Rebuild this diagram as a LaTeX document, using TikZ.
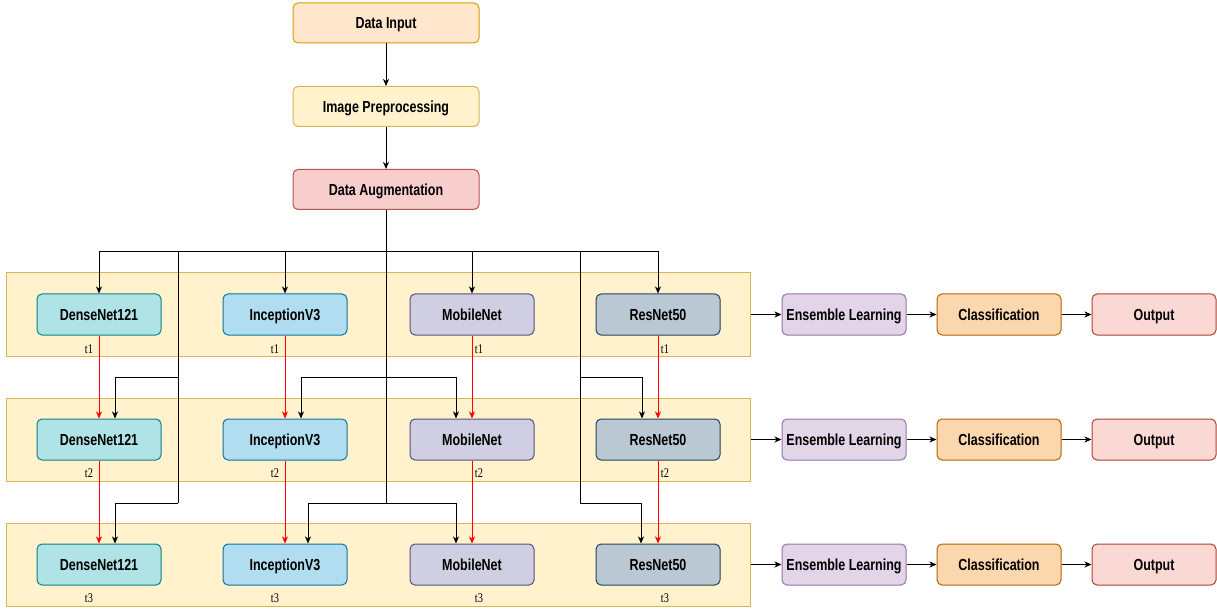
\documentclass[tikz,border=0pt]{standalone}
\usepackage{fontspec}
\setmainfont{Liberation Sans}
\newfontfamily\boxfont[FakeStretch=0.78]{Liberation Sans}
\newfontfamily\labelfont[FakeStretch=0.78]{Liberation Serif}
\usetikzlibrary{arrows.meta}

% fill / stroke pairs
\definecolor{inF}{HTML}{FFE6CC}\definecolor{inS}{HTML}{D79B00}
\definecolor{ylF}{HTML}{FFF2CC}\definecolor{ylS}{HTML}{D6B656}
\definecolor{rdF}{HTML}{F8CECC}\definecolor{rdS}{HTML}{B85450}
\definecolor{dnF}{HTML}{B0E3E6}\definecolor{dnS}{HTML}{0E8088}
\definecolor{icF}{HTML}{B1DDF0}\definecolor{icS}{HTML}{10739E}
\definecolor{mbF}{HTML}{D0CEE2}\definecolor{mbS}{HTML}{56517E}
\definecolor{rsF}{HTML}{BAC8D3}\definecolor{rsS}{HTML}{23445D}
\definecolor{enF}{HTML}{E1D5E7}\definecolor{enS}{HTML}{9673A6}
\definecolor{clF}{HTML}{FAD7AC}\definecolor{clS}{HTML}{B46504}
\definecolor{ouF}{HTML}{FAD9D5}\definecolor{ouS}{HTML}{AE4132}
\definecolor{redline}{HTML}{FF0000}

\tikzset{
  box/.style={rectangle, rounded corners=5pt, line width=1pt,
    minimum width=124pt, minimum height=41pt, inner sep=0pt,
    text height=11.5pt, text depth=0pt,
    font=\boxfont\fontsize{16}{18}\selectfont\bfseries},
  wide/.style={box, minimum width=186pt, minimum height=40pt},
  band/.style={rectangle, fill=ylF, draw=ylS, line width=1pt,
    minimum width=743.5pt, minimum height=83pt, inner sep=0pt},
  dense/.style={box, fill=dnF, draw=dnS},
  incep/.style={box, fill=icF, draw=icS},
  mobile/.style={box, fill=mbF, draw=mbS},
  resnet/.style={box, fill=rsF, draw=rsS},
  ensem/.style={box, fill=enF, draw=enS},
  classi/.style={box, fill=clF, draw=clS},
  outbox/.style={box, fill=ouF, draw=ouS},
  tlabel/.style={inner sep=0pt, text height=9pt, text depth=0pt,
    font=\labelfont\fontsize{13.3}{15}\selectfont},
  arr/.style={line width=1pt, black, -{Stealth[length=7pt,width=6pt,inset=2pt]}},
  redarr/.style={line width=1pt, redline, -{Stealth[length=7pt,width=6pt,inset=2pt]}},
  link/.style={line width=1pt, black},
}

\begin{document}
\begin{tikzpicture}[x=1pt, y=-1pt]
\useasboundingbox (0,0) rectangle (1217,609);

% pipeline head
\node[wide, fill=inF, draw=inS] (input) at (386,23) {Data Input};
\node[wide, fill=ylF, draw=ylS] (prep) at (386,106.5) {Image Preprocessing};
\node[wide, fill=rdF, draw=rdS] (aug) at (386,189.5) {Data Augmentation};
\draw[arr] (input) -- (prep);
\draw[arr] (prep) -- (aug);

% one band per time step
\node[band] (band1) at (378.25,314.5) {};
\node[band] (band2) at (378.25,439.5) {};
\node[band] (band3) at (378.25,564.5) {};

% models, row by row
\foreach \r/\y in {1/314.5, 2/439.5, 3/564.5}{
  \node[dense]  (d\r) at (99,\y)  {DenseNet121};
  \node[incep]  (i\r) at (285,\y) {InceptionV3};
  \node[mobile] (m\r) at (472,\y) {MobileNet};
  \node[resnet] (r\r) at (658,\y) {ResNet50};
  \node[ensem]  (e\r) at (844,\y) {Ensemble Learning};
  \node[classi] (c\r) at (999,\y) {Classification};
  \node[outbox] (o\r) at (1154,\y) {Output};
  \draw[arr] (band\r.east) -- (e\r.west);
  \draw[arr] (e\r) -- (c\r);
  \draw[arr] (c\r) -- (o\r);
}

% junction points of the distribution lines
\coordinate (bus) at (386,252);
\coordinate (jl1) at (178,252);
\coordinate (jl2) at (178,377);
\coordinate (jl3) at (178,503);
\coordinate (jc2) at (386,377);
\coordinate (jc3) at (386,503);
\coordinate (jr1) at (580,252);
\coordinate (jr2) at (580,377);
\coordinate (jr3) at (580,503);

% feed of the first row
\draw[arr] (aug.south) -- (bus) -| (d1.north);
\draw[arr] (bus) -| (i1.north);
\draw[arr] (bus) -| (m1.north);
\draw[arr] (bus) -| (r1.north);

% vertical trunks
\draw[link] (bus) -- (jc3);
\draw[link] (jl1) -- (jl3);
\draw[link] (jr1) -- (jr3);

% feed of the second row
\draw[arr] (jl2) -| ([xshift=16pt]d2.north);
\draw[arr] (jc2) -| ([xshift=16pt]i2.north);
\draw[arr] (jc2) -| ([xshift=-16pt]m2.north);
\draw[arr] (jr2) -| ([xshift=-16pt]r2.north);

% feed of the third row
\draw[arr] (jl3) -| ([xshift=16pt]d3.north);
\draw[arr] (jc3) -| ([xshift=23pt]i3.north);
\draw[arr] (jc3) -| ([xshift=-16pt]m3.north);
\draw[arr] (jr3) -| ([xshift=-17pt]r3.north);

% time-step links
\foreach \a/\b in {1/2, 2/3}{
  \draw[redarr] (d\a.south) -- (d\b.north);
  \draw[redarr] (i\a.south) -- (i\b.north);
  \draw[redarr] (m\a.south) -- (m\b.north);
  \draw[redarr] (r\a.south) -- (r\b.north);
}

% time-step labels
\foreach \r/\y in {1/348.5, 2/473, 3/597.5}{
  \node[tlabel] (td\r) at (89,\y)  {t\r};
  \node[tlabel] (ti\r) at (275,\y) {t\r};
  \node[tlabel] (tm\r) at (479,\y) {t\r};
  \node[tlabel] (tr\r) at (665,\y) {t\r};
}
\end{tikzpicture}
\end{document}
